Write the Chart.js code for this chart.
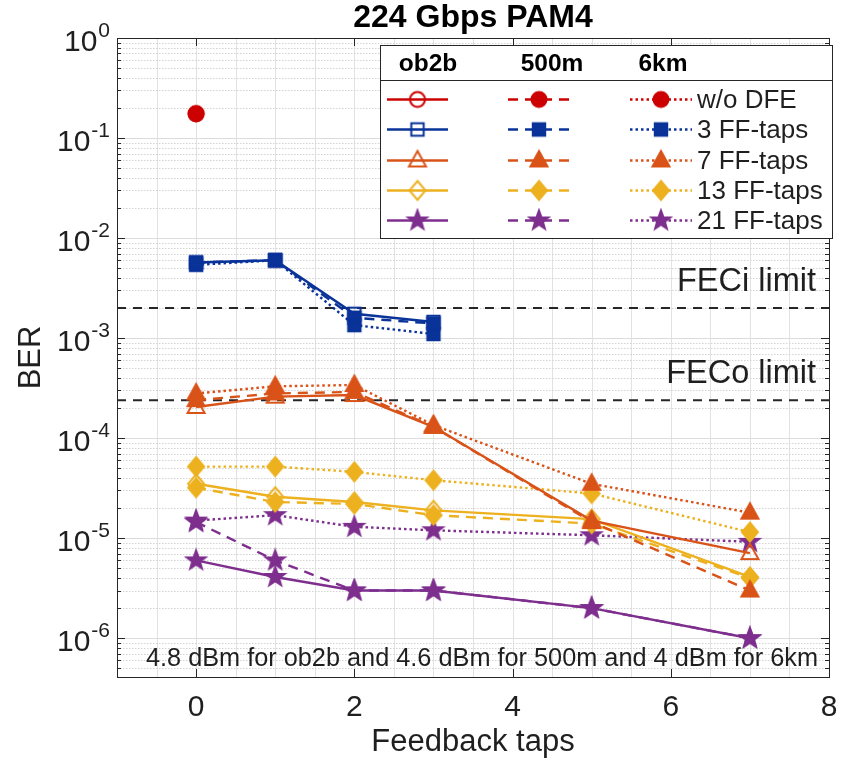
<!DOCTYPE html>
<html>
<head>
<meta charset="utf-8">
<title>224 Gbps PAM4</title>
<script src="https://cdn.jsdelivr.net/npm/chart.js@4.4.1/dist/chart.umd.min.js"></script>
<style>
  html, body { margin: 0; padding: 0; background: #fff; }
  canvas { display: block; }
</style>
</head>
<body>
<canvas id="berChart" width="848" height="759"></canvas>
<script>
// feedback taps at which BER was measured
const taps = [0, 1, 2, 3, 5, 7];

const links = ['ob2b', '500m', '6km'];
const eqLabels = ['w/o DFE', '3 FF-taps', '7 FF-taps', '13 FF-taps', '21 FF-taps'];

// BER values (null = no point)
const woDfe_ob2b = [null, null, null, null, null, null];
const woDfe_500m = [0.175, null, null, null, null, null];
const woDfe_6km  = [0.175, null, null, null, null, null];

const ff3_ob2b = [5.7e-3, 6.0e-3, 1.75e-3, 1.45e-3, null, null];
const ff3_500m = [5.7e-3, 6.0e-3, 1.6e-3, 1.4e-3, null, null];
const ff3_6km  = [5.4e-3, 6.0e-3, 1.35e-3, 1.1e-3, null, null];

const ff7_ob2b = [2.05e-4, 2.6e-4, 2.7e-4, 1.3e-4, 1.5e-5, 7.1e-6];
const ff7_500m = [2.4e-4, 2.8e-4, 2.9e-4, 1.3e-4, 1.45e-5, 3.0e-6];
const ff7_6km  = [2.8e-4, 3.3e-4, 3.4e-4, 1.35e-4, 3.5e-5, 1.8e-5];

const ff13_ob2b = [3.5e-5, 2.6e-5, 2.3e-5, 1.9e-5, 1.55e-5, 4.1e-6];
const ff13_500m = [3.2e-5, 2.3e-5, 2.2e-5, 1.7e-5, 1.4e-5, 4.0e-6];
const ff13_6km  = [5.2e-5, 5.2e-5, 4.6e-5, 3.8e-5, 2.8e-5, 1.15e-5];

const ff21_ob2b = [6.0e-6, 4.1e-6, 3.0e-6, 3.0e-6, 2.0e-6, 1.0e-6];
const ff21_500m = [1.45e-5, 6.0e-6, 3.0e-6, 3.0e-6, 2.0e-6, 1.0e-6];
const ff21_6km  = [1.5e-5, 1.7e-5, 1.3e-5, 1.2e-5, 1.07e-5, 9.2e-6];

const berByEq = [
  [woDfe_ob2b, woDfe_500m, woDfe_6km],
  [ff3_ob2b, ff3_500m, ff3_6km],
  [ff7_ob2b, ff7_500m, ff7_6km],
  [ff13_ob2b, ff13_500m, ff13_6km],
  [ff21_ob2b, ff21_500m, ff21_6km]
];

const feciLimit = 2e-3;
const fecoLimit = 2.4e-4;

const xMin = -1, xMax = 8;
const yMin = 4.1e-7, yMax = 1;
const xTickValues = [0, 2, 4, 6, 8];
const yTickExps = [0, -1, -2, -3, -4, -5, -6];

const eqColors = ['#cc0000', '#0a3399', '#d95319', '#edb120', '#7e2f8e'];
const eqShapes = ['circle', 'square', 'triangle', 'diamond', 'star'];
const linkDash = [[], [10, 7], [2.5, 3]];

const FONT = '"Liberation Sans", Arial, Helvetica, sans-serif';
const INK = '#1f1f1f';

function makeMarker(shape, color, filled) {
  const s = 26;
  const c = document.createElement('canvas');
  c.width = s; c.height = s;
  const g = c.getContext('2d');
  g.translate(s / 2, s / 2);
  g.beginPath();
  if (shape === 'circle') {
    g.arc(0, 0, 7.5, 0, Math.PI * 2);
  } else if (shape === 'square') {
    g.rect(-6.2, -6.2, 12.4, 12.4);
  } else if (shape === 'triangle') {
    g.moveTo(0, -9.5); g.lineTo(8.5, 6); g.lineTo(-8.5, 6); g.closePath();
  } else if (shape === 'diamond') {
    g.moveTo(0, -9.5); g.lineTo(8, 0); g.lineTo(0, 9.5); g.lineTo(-8, 0); g.closePath();
  } else {
    for (let i = 0; i < 10; i++) {
      const r = i % 2 === 0 ? 10 : 4.1;
      const a = -Math.PI / 2 + i * Math.PI / 5;
      if (i === 0) g.moveTo(r * Math.cos(a), r * Math.sin(a));
      else g.lineTo(r * Math.cos(a), r * Math.sin(a));
    }
    g.closePath();
  }
  g.lineWidth = 2;
  g.lineJoin = 'miter';
  g.strokeStyle = color;
  if (filled) { g.fillStyle = color; g.fill(); }
  g.stroke();
  return c;
}

// marker images [eq][link]; ob2b hollow except the star
const markers = eqShapes.map((shape, i) =>
  links.map((_, j) => makeMarker(shape, eqColors[i], j > 0 || shape === 'star'))
);

const datasets = [];
berByEq.forEach((rows, i) => {
  rows.forEach((vals, j) => {
    datasets.push({
      label: eqLabels[i] + ' ' + links[j],
      data: taps.map((t, k) => ({ x: t, y: vals[k] })),
      borderColor: eqColors[i],
      backgroundColor: eqColors[i],
      borderWidth: 2.4,
      borderDash: linkDash[j],
      pointStyle: markers[i][j],
      pointRadius: 8,
      spanGaps: false,
      tension: 0
    });
  });
});
[feciLimit, fecoLimit].forEach(v => {
  datasets.push({
    label: 'limit',
    data: [{ x: xMin, y: v }, { x: xMax, y: v }],
    borderColor: '#262626',
    borderWidth: 2,
    borderDash: [9, 7],
    pointRadius: 0
  });
});

const axesPlugin = {
  id: 'matlabAxes',
  beforeDatasetsDraw(chart) {
    const { ctx, chartArea: a, scales: { x, y } } = chart;
    ctx.save();
    ctx.lineWidth = 1;
    // vertical grid every 0.5
    ctx.strokeStyle = '#e2e2e2';
    for (let v = xMin + 0.5; v < xMax; v += 0.5) {
      const px = Math.round(x.getPixelForValue(v)) + 0.5;
      ctx.beginPath(); ctx.moveTo(px, a.top); ctx.lineTo(px, a.bottom); ctx.stroke();
    }
    // horizontal log grid
    for (let d = -7; d <= 0; d++) {
      for (let m = 1; m <= 9; m++) {
        const v = m * Math.pow(10, d);
        if (v <= yMin || v >= yMax) continue;
        const py = Math.round(y.getPixelForValue(v)) + 0.5;
        if (m === 1) { ctx.setLineDash([]); ctx.strokeStyle = '#dcdcdc'; }
        else { ctx.setLineDash([1.5, 1.5]); ctx.strokeStyle = '#d3d3d3'; }
        ctx.beginPath(); ctx.moveTo(a.left, py); ctx.lineTo(a.right, py); ctx.stroke();
      }
    }
    ctx.restore();
  },
  afterDatasetsDraw(chart) {
    const { ctx, chartArea: a, scales: { x, y } } = chart;
    ctx.save();
    ctx.setLineDash([]);
    ctx.strokeStyle = '#262626';
    ctx.lineWidth = 1;
    // ticks (inward)
    for (let d = -7; d <= 0; d++) {
      for (let m = 1; m <= 9; m++) {
        const v = m * Math.pow(10, d);
        if (v < yMin || v > yMax) continue;
        const py = Math.round(y.getPixelForValue(v)) + 0.5;
        const len = m === 1 ? 8 : 4;
        ctx.beginPath();
        ctx.moveTo(a.left, py); ctx.lineTo(a.left + len, py);
        ctx.moveTo(a.right, py); ctx.lineTo(a.right - len, py);
        ctx.stroke();
      }
    }
    xTickValues.forEach(v => {
      const px = Math.round(x.getPixelForValue(v)) + 0.5;
      ctx.beginPath();
      ctx.moveTo(px, a.bottom); ctx.lineTo(px, a.bottom - 8);
      ctx.moveTo(px, a.top); ctx.lineTo(px, a.top + 8);
      ctx.stroke();
    });
    // box
    ctx.strokeRect(Math.round(a.left) + 0.5, Math.round(a.top) + 0.5,
      Math.round(a.right - a.left), Math.round(a.bottom - a.top));

    ctx.fillStyle = INK;
    // y tick labels 10^n
    yTickExps.forEach(e => {
      const py = y.getPixelForValue(Math.pow(10, e));
      const right = a.left - 7;
      ctx.textAlign = 'right';
      ctx.textBaseline = 'alphabetic';
      ctx.font = '21px ' + FONT;
      const sup = String(e);
      const supW = ctx.measureText(sup).width;
      ctx.fillText(sup, right, py - 1);
      ctx.font = '30px ' + FONT;
      ctx.fillText('10', right - supW - 1, py + 13);
    });
    // x tick labels
    ctx.textAlign = 'center';
    ctx.font = '30px ' + FONT;
    xTickValues.forEach(v => ctx.fillText(String(v), x.getPixelForValue(v), 716));
    // axis titles
    const cx = (a.left + a.right) / 2;
    ctx.font = '31px ' + FONT;
    ctx.fillText('Feedback taps', cx, 751);
    ctx.save();
    ctx.translate(31, (a.top + a.bottom) / 2);
    ctx.rotate(-Math.PI / 2);
    ctx.textBaseline = 'middle';
    ctx.fillText('BER', 0, 0);
    ctx.restore();
    // title
    ctx.font = 'bold 32px ' + FONT;
    ctx.fillStyle = '#000';
    ctx.fillText('224 Gbps PAM4', cx, 27);
    // FEC labels
    ctx.fillStyle = INK;
    ctx.textAlign = 'right';
    ctx.font = '32.5px ' + FONT;
    ctx.fillText('FECi limit', a.right - 13, y.getPixelForValue(feciLimit) - 17);
    ctx.fillText('FECo limit', a.right - 13, y.getPixelForValue(fecoLimit) - 17);
    // launch power note
    ctx.textAlign = 'center';
    ctx.font = '25.3px ' + FONT;
    ctx.fillText('4.8 dBm for ob2b and 4.6 dBm for 500m and 4 dBm for 6km', 482, 666);

    drawLegend(ctx);
    ctx.restore();
  }
};

function drawLegend(ctx) {
  const L = 380, T = 45, R = 832, B = 238, sepY = 80;
  const headX = [428, 552, 663];
  const seg = [[387, 448], [508, 570], [630, 692]];
  const rowY0 = 99, rowStep = 30.3;
  ctx.save();
  ctx.fillStyle = '#fff';
  ctx.fillRect(L, T, R - L, B - T);
  ctx.strokeStyle = '#262626';
  ctx.lineWidth = 1;
  ctx.strokeRect(L + 0.5, T + 0.5, R - L, B - T);
  ctx.beginPath(); ctx.moveTo(L, sepY + 0.5); ctx.lineTo(R, sepY + 0.5); ctx.stroke();
  ctx.fillStyle = '#000';
  ctx.font = 'bold 24.5px ' + FONT;
  ctx.textAlign = 'center';
  ctx.textBaseline = 'middle';
  links.forEach((l, j) => ctx.fillText(l, headX[j], 64));
  eqLabels.forEach((lab, i) => {
    const yy = Math.round(rowY0 + i * rowStep) + 0.5;
    links.forEach((_, j) => {
      ctx.strokeStyle = eqColors[i];
      ctx.lineWidth = 2.4;
      ctx.setLineDash(linkDash[j]);
      ctx.beginPath(); ctx.moveTo(seg[j][0], yy); ctx.lineTo(seg[j][1], yy); ctx.stroke();
      const img = markers[i][j];
      const mx = (seg[j][0] + seg[j][1]) / 2;
      ctx.drawImage(img, mx - img.width / 2, yy - img.height / 2);
    });
    ctx.setLineDash([]);
    ctx.fillStyle = INK;
    ctx.textAlign = 'left';
    ctx.font = '26px ' + FONT;
    ctx.fillText(lab, 697, yy + 1);
  });
  ctx.restore();
}

new Chart(document.getElementById('berChart').getContext('2d'), {
  type: 'line',
  data: { datasets: datasets },
  options: {
    responsive: false,
    animation: false,
    devicePixelRatio: 1,
    layout: { padding: { left: 117, right: 19, top: 38, bottom: 82 } },
    plugins: { legend: { display: false }, tooltip: { enabled: false } },
    scales: {
      x: { type: 'linear', min: xMin, max: xMax, display: false },
      y: { type: 'logarithmic', min: yMin, max: yMax, display: false }
    }
  },
  plugins: [axesPlugin]
});
</script>
</body>
</html>
